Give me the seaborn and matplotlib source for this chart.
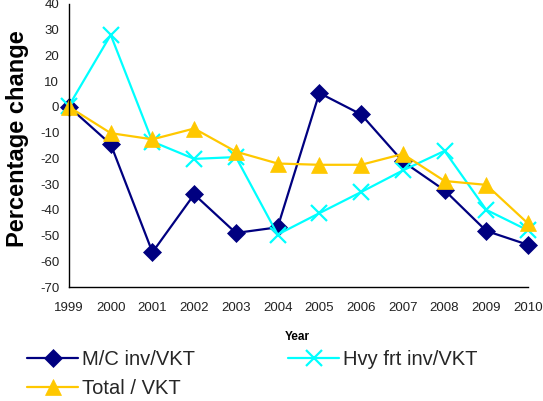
import matplotlib
matplotlib.use("Agg")
import matplotlib.pyplot as plt
import seaborn as sns
import pandas as pd

years = [1999, 2000, 2001, 2002, 2003, 2004, 2005, 2006, 2007, 2008, 2009, 2010]
mc_inv = [0, -14.5, -56.5, -34, -49, -46.8, 5.4, -2.9, -21.2, -32.4, -48.2, -53.6]
hvy_inv = [0.5, 28, -13.5, -20.2, -19.5, -49.6, -41.3, -33.1, -24.7, -17.1, -40.0, -48.0]
total = [0, -10.2, -12.6, -8.4, -17.4, -22.0, -22.5, -22.5, -18.3, -28.8, -30.3, -45.3]
yticks = list(range(-70, 41, 10))

sns.set_style("white")
plt.rcParams['font.family'] = ['Liberation Sans', 'DejaVu Sans']
plt.rcParams['axes.unicode_minus'] = False

fig = plt.figure(figsize=(5.43, 4.01), dpi=100)
ax = fig.add_axes([69/543, 1-287/401, (528-69)/543, (287-4)/401])

series = [
    ("M/C inv/VKT", mc_inv, "#000080", "D", 9.5),
    ("Hvy frt inv/VKT", hvy_inv, "#00FFFF", "x", 11),
    ("Total / VKT", total, "#FFC800", "^", 11.5),
]
for name, vals, col, mk, ms in series:
    df = pd.DataFrame({"Year": years, "v": vals})
    sns.lineplot(data=df, x="Year", y="v", ax=ax, color=col, marker=mk,
                 markersize=ms, linewidth=1.6, markeredgewidth=1.6 if mk == "x" else 0.5,
                 markeredgecolor=col, label=name, legend=False, clip_on=False)
line_handles = ax.get_lines()

ax.set_xlim(1999, 2010)
ax.set_ylim(-70, 40)
ax.set_xticks(years)
ax.set_xticklabels([str(y) for y in years])
ax.set_yticks(yticks)
ax.set_yticklabels([str(t) for t in yticks])
ax.set_xlabel("")
ax.set_ylabel("")
for s in ["top", "right"]:
    ax.spines[s].set_visible(False)
for s in ["left", "bottom"]:
    ax.spines[s].set_color("black")
    ax.spines[s].set_linewidth(1.0)
ax.tick_params(axis="both", direction="in", length=4, width=1, color="black",
               labelsize=9.5, labelcolor="#222222")
ax.tick_params(axis="x", pad=11)
ax.tick_params(axis="y", pad=7)

fig.text(18/543, 1-139/401, "Percentage change", rotation=90, ha="center", va="center",
         fontsize=17, fontweight="bold", color="black")
fig.text(297/543, 1-337/401, "Year", ha="center", va="center", fontsize=8.5,
         fontweight="bold", color="black")

h = [line_handles[0], line_handles[2], line_handles[1]]
labels = ["M/C inv/VKT", "Total / VKT", "Hvy frt inv/VKT"]
fig.legend(h, labels, loc="upper left", bbox_to_anchor=(27/543, 1-350/401), ncol=2,
           frameon=False, fontsize=14.5, handlelength=2.55, handletextpad=0.2,
           borderpad=0, borderaxespad=0, labelspacing=0.5, columnspacing=4.6)

fig.savefig("out.png", dpi=100)
